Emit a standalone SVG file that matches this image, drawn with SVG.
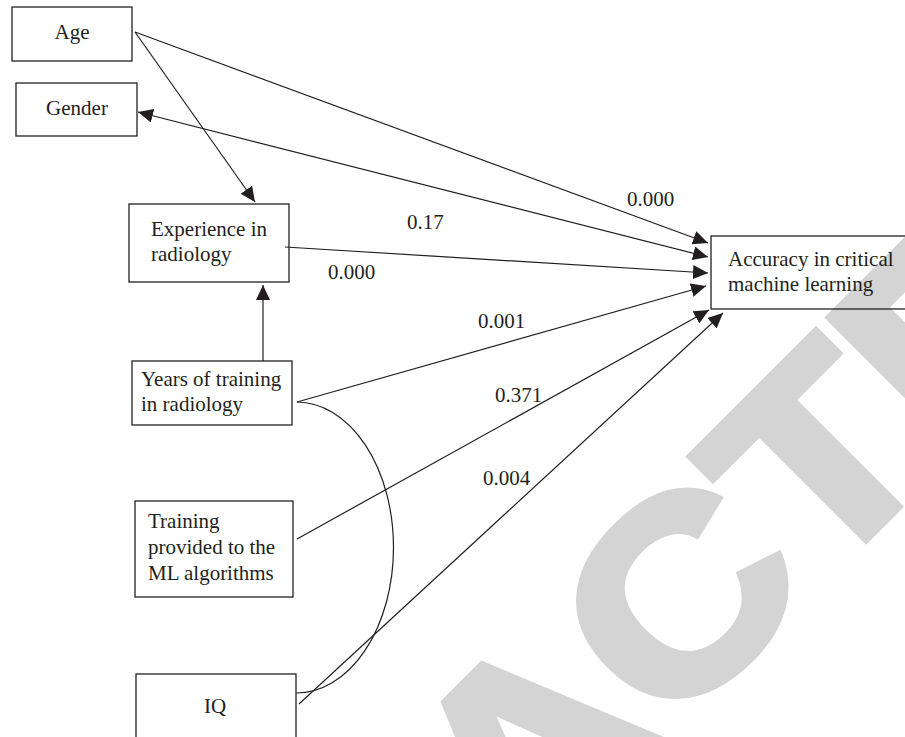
<svg xmlns="http://www.w3.org/2000/svg" width="905" height="737" viewBox="0 0 905 737">
<style>
.box{fill:none;stroke:#231f20;stroke-width:1.3}
.t{font-family:"Liberation Serif","Times New Roman",serif;font-size:21px;fill:#231f20}
.c{text-anchor:middle}
.ln{fill:none;stroke:#231f20;stroke-width:1.2}
.wm{font-family:"Liberation Sans",Arial,sans-serif;font-weight:bold;font-size:262px;fill:#d4d4d4;stroke:#d4d4d4;stroke-width:10;stroke-linejoin:miter}
</style>
<defs>
<marker id="ah" markerUnits="userSpaceOnUse" markerWidth="16" markerHeight="14" refX="15" refY="7" orient="auto-start-reverse" viewBox="0 0 16 14">
<path d="M0,0 L15,7 L0,14 z" fill="#231f20"/>
</marker>
</defs>
<rect width="905" height="737" fill="#fff"/>
<text class="wm" transform="translate(-51.3,1455.1) rotate(-45) scale(1.126,1)" x="0" y="0">RETRACTED</text>
<g id="connectors">
<line class="ln" x1="135" y1="32" x2="708" y2="243" marker-end="url(#ah)"/>
<line class="ln" x1="135" y1="32" x2="255" y2="202" marker-end="url(#ah)"/>
<line class="ln" x1="138" y1="112" x2="708" y2="257" marker-start="url(#ah)" marker-end="url(#ah)"/>
<line class="ln" x1="285" y1="247" x2="708" y2="273" marker-end="url(#ah)"/>
<line class="ln" x1="263" y1="361" x2="263" y2="285" marker-end="url(#ah)"/>
<line class="ln" x1="297" y1="402" x2="706" y2="286" marker-end="url(#ah)"/>
<line class="ln" x1="297" y1="539" x2="709" y2="310" marker-end="url(#ah)"/>
<line class="ln" x1="299" y1="704" x2="723" y2="313" marker-end="url(#ah)"/>
<path class="ln" d="M297,402 A97,145.5 0 0 1 296,693"/>
<text class="t" x="627" y="206">0.000</text>
<text class="t" x="407" y="229">0.17</text>
<text class="t" x="328" y="279">0.000</text>
<text class="t" x="478" y="328">0.001</text>
<text class="t" x="495" y="402">0.371</text>
<text class="t" x="483" y="485">0.004</text>
</g>
<g id="age">
<rect class="box" x="12" y="7" width="120" height="54"/>
<text class="t c" x="72" y="39">Age</text>
</g>
<g id="gender">
<rect class="box" x="16" y="83" width="121" height="53"/>
<text class="t c" x="77" y="115">Gender</text>
</g>
<g id="experience">
<rect class="box" x="129" y="204" width="160" height="78"/>
<text class="t" x="151" y="236">Experience in</text>
<text class="t" x="151" y="261">radiology</text>
</g>
<g id="years">
<rect class="box" x="132" y="361" width="160" height="64"/>
<text class="t" x="141" y="386">Years of training</text>
<text class="t" x="141" y="411">in radiology</text>
</g>
<g id="training">
<rect class="box" x="135" y="501" width="158" height="96"/>
<text class="t" x="148" y="528">Training</text>
<text class="t" x="148" y="554">provided to the</text>
<text class="t" x="148" y="580">ML algorithms</text>
</g>
<g id="iq">
<rect class="box" x="136" y="674" width="160" height="80"/>
<text class="t c" x="215" y="713">IQ</text>
</g>
<g id="accuracy">
<rect class="box" x="711" y="236" width="210" height="73"/>
<text class="t" x="728" y="266">Accuracy in critical</text>
<text class="t" x="728" y="291">machine learning</text>
</g>
</svg>
